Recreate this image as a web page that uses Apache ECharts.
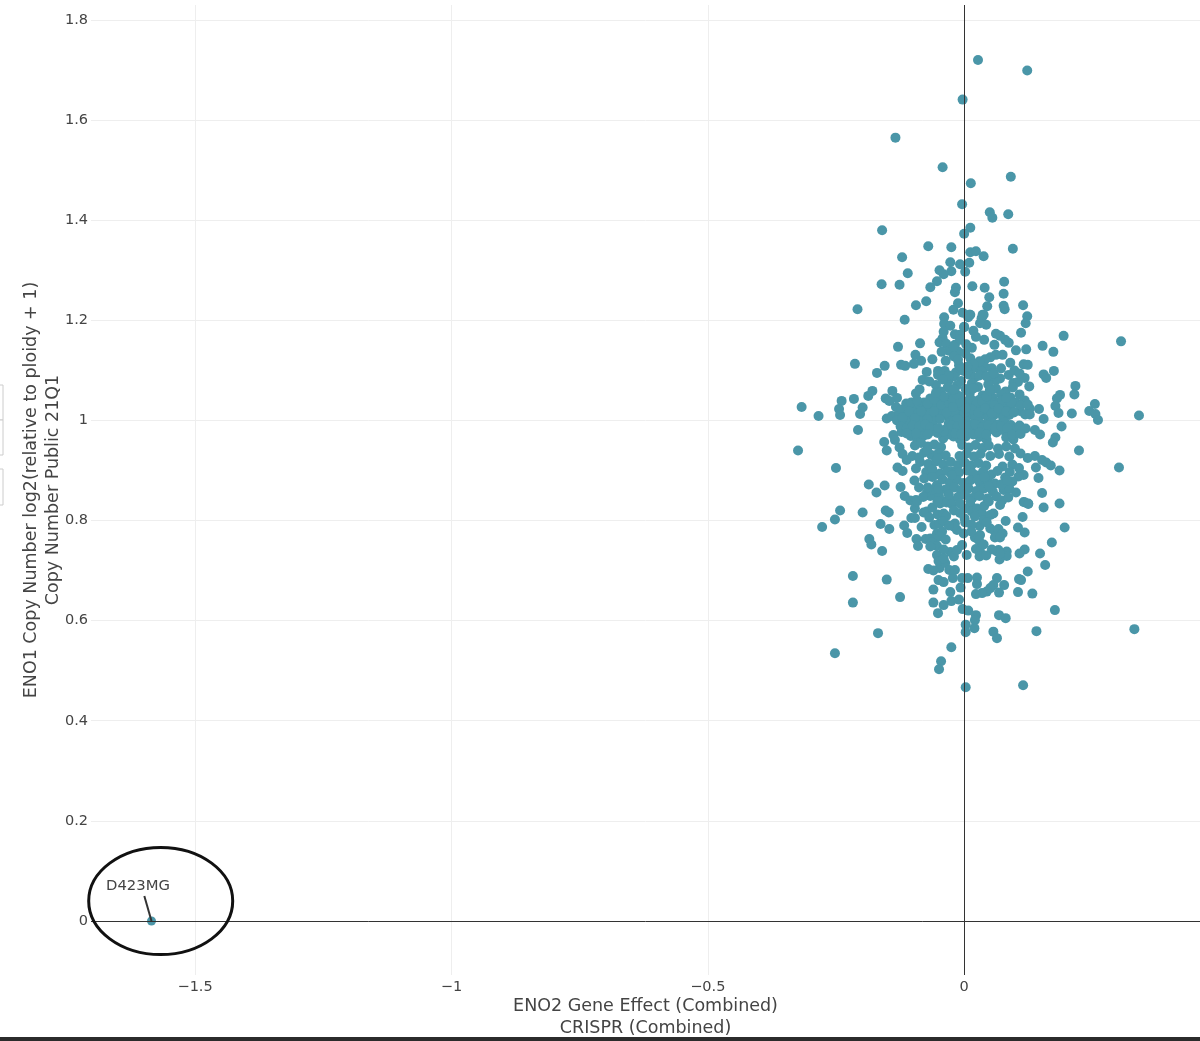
<!DOCTYPE html>
<html>
<head>
<meta charset="utf-8">
<title>ENO2 vs ENO1</title>
<script src="https://cdn.jsdelivr.net/npm/echarts@6/dist/echarts.min.js"></script>
<style>
  html, body { margin: 0; padding: 0; background: #fff; }
  #chart { width: 1200px; height: 1041px; }
</style>
</head>
<body>
<div id="chart"></div>
<script>
const xTicks = [-1.5, -1, -0.5, 0];
const yTicks = [0, 0.2, 0.4, 0.6, 0.8, 1, 1.2, 1.4, 1.6, 1.8];
const xTitle = 'ENO2 Gene Effect (Combined)\nCRISPR (Combined)';
const yTitle = 'ENO1 Copy Number log2(relative to ploidy + 1)\nCopy Number Public 21Q1';

// the one labelled cell line
const outlierName = 'D423MG';
const outlier = [-1.585, 0];
const outlierLeaderEnd = [-1.599, 0.05];

// [gene effect, copy number]
const upperPoints = [
  [0.027,1.720],[0.123,1.699],[-0.003,1.641],[-0.134,1.565],[-0.042,1.506],[0.091,1.487],[0.013,1.474],
  [-0.004,1.432],[0.050,1.416],[0.055,1.405],[0.086,1.412],[-0.160,1.380],[0.012,1.385],[0.000,1.373],
  [-0.070,1.348],[-0.025,1.346],[0.095,1.343],[0.012,1.336],[0.023,1.338],[0.038,1.328],[-0.121,1.326],
  [-0.027,1.316],[-0.008,1.312],[0.010,1.315],[-0.048,1.300],[-0.025,1.298],[-0.040,1.292],[-0.110,1.294],
  [0.002,1.297],[-0.053,1.278],[0.078,1.277],[-0.161,1.272],[-0.126,1.271],[-0.066,1.266],[-0.016,1.265],
  [-0.018,1.256],[0.016,1.268],[0.040,1.265],[0.077,1.253],[0.049,1.246],[-0.012,1.234],[-0.074,1.238],
  [-0.094,1.230],[0.045,1.228],[0.077,1.229],[0.115,1.230],[0.079,1.222],[-0.208,1.222],[-0.021,1.221],
  [-0.003,1.215],[0.012,1.211],[0.038,1.211],[0.123,1.208],[-0.039,1.206],[-0.116,1.201],[0.008,1.206],
  [0.034,1.204],[0.120,1.194],[0.111,1.175]
];
const upperCentrePoints = [
  [-0.039,1.193],[-0.027,1.189],[0.000,1.187],[-0.040,1.177],[-0.018,1.172],[-0.008,1.171],[-0.042,1.164],
  [-0.129,1.147],[-0.086,1.154],[-0.048,1.156],[-0.035,1.153],[-0.018,1.151],[-0.008,1.161],[-0.029,1.139],
  [-0.011,1.137],[0.002,1.134],[-0.095,1.131],[-0.084,1.119],[-0.098,1.113],[-0.036,1.119],[0.059,1.151],
  [0.087,1.155],[0.080,1.161],[0.070,1.169],[0.062,1.173],[0.039,1.161],[0.015,1.145],[0.023,1.167],
  [0.018,1.179],[0.043,1.191],[0.031,1.194],[0.036,1.211],[0.010,1.211],[0.000,1.186],[0.075,1.131],
  [0.062,1.131],[0.051,1.126],[0.041,1.122],[0.090,1.115],[0.054,1.104],[0.041,1.106],[0.028,1.104],
  [0.012,1.098],[-0.073,1.097],[-0.051,1.099],[-0.038,1.099],[-0.051,1.091],[-0.016,1.096],[-0.001,1.099],
  [-0.081,1.081],[-0.031,1.079],[-0.055,1.071],[-0.087,1.062],[-0.094,1.054],[0.087,1.091],[0.070,1.084],
  [0.062,1.081],[0.049,1.084],[0.096,1.075],[0.105,1.077],[0.118,1.085]
];
const leftPoints = [
  [-0.213,1.113],[-0.155,1.109],[-0.123,1.111],[-0.115,1.109],[-0.170,1.095],[-0.140,1.059],[-0.179,1.059],
  [-0.187,1.049],[-0.215,1.043],[-0.239,1.039],[-0.131,1.045],[-0.153,1.044],[-0.146,1.039],[-0.317,1.027],
  [-0.244,1.023],[-0.242,1.011],[-0.284,1.009],[-0.198,1.026],[-0.203,1.013],[-0.133,1.027],[-0.113,1.034],
  [-0.151,1.004],[-0.141,1.009],[-0.207,0.981],[-0.324,0.940],[-0.250,0.905],[-0.156,0.957],[-0.151,0.940],
  [-0.138,0.971],[-0.135,0.961],[-0.122,0.977],[-0.126,0.946],[-0.120,0.933],[-0.112,0.921],[-0.101,0.929],
  [-0.130,0.906],[-0.120,0.899],[-0.094,0.904],[-0.186,0.872],[-0.171,0.856],[-0.155,0.870],[-0.124,0.867],
  [-0.097,0.880],[-0.088,0.866],[-0.116,0.849],[-0.105,0.840],[-0.094,0.841],[-0.073,0.854],[-0.066,0.849],
  [-0.057,0.891],[-0.047,0.894],[-0.053,0.871],[-0.060,0.861],[-0.040,0.838],[-0.027,0.841],[-0.022,0.898]
];
const rightPoints = [
  [0.194,1.169],[0.306,1.158],[0.153,1.149],[0.121,1.142],[0.101,1.140],[0.174,1.137],[0.116,1.112],
  [0.124,1.111],[0.175,1.099],[0.155,1.092],[0.160,1.085],[0.127,1.068],[0.217,1.069],[0.215,1.052],
  [0.187,1.051],[0.181,1.044],[0.255,1.033],[0.178,1.029],[0.184,1.015],[0.210,1.014],[0.146,1.023],
  [0.244,1.019],[0.256,1.013],[0.261,1.001],[0.341,1.010],[0.155,1.003],[0.190,0.988],[0.148,0.972],
  [0.138,0.981],[0.178,0.966],[0.173,0.956],[0.224,0.940],[0.302,0.906],[0.138,0.929],[0.152,0.921],
  [0.160,0.916],[0.169,0.910],[0.186,0.900],[0.140,0.906],[0.075,0.908],[0.145,0.885],[0.116,0.891],
  [0.106,0.888],[0.080,0.886],[0.101,0.856],[0.152,0.855],[0.116,0.837],[0.125,0.834],[0.186,0.834],
  [0.155,0.826],[0.077,0.861],[0.074,0.840],[0.025,0.890]
];
const lowerPoints = [
  [-0.242,0.820],[-0.252,0.802],[-0.277,0.787],[-0.198,0.816],[-0.153,0.820],[-0.147,0.816],[-0.163,0.793],
  [-0.146,0.783],[-0.117,0.790],[-0.111,0.775],[-0.083,0.787],[-0.103,0.805],[-0.096,0.805],[-0.096,0.824],
  [-0.092,0.838],[-0.079,0.816],[-0.073,0.818],[-0.052,0.812],[-0.040,0.814],[-0.035,0.809],[-0.058,0.791],
  [-0.048,0.794],[-0.040,0.798],[-0.053,0.774],[-0.043,0.778],[-0.048,0.768],[-0.075,0.763],[-0.066,0.764],
  [-0.057,0.762],[-0.063,0.756],[-0.053,0.749],[-0.093,0.763],[-0.090,0.749],[-0.185,0.763],[-0.181,0.752],
  [-0.160,0.739],[-0.053,0.731],[-0.027,0.737],[-0.020,0.728],[-0.014,0.741],[-0.004,0.751],[0.005,0.731],
  [-0.001,0.774],[-0.018,0.794],[-0.014,0.781],[-0.021,0.788],[0.001,0.804],[0.002,0.796],[0.021,0.766],
  [0.031,0.771],[0.029,0.760],[0.030,0.789],[0.051,0.784],[0.060,0.778],[0.067,0.783],[0.075,0.774],
  [0.060,0.766],[0.070,0.766],[0.081,0.799],[0.105,0.786],[0.118,0.776],[0.114,0.807],[0.196,0.786],
  [0.171,0.756],[0.148,0.734],[0.118,0.742],[0.108,0.734],[0.083,0.738],[0.083,0.729],[0.067,0.741],
  [0.064,0.738],[0.069,0.722],[0.070,0.734],[0.023,0.743],[0.031,0.738],[0.030,0.728],[0.158,0.711],
  [0.124,0.698],[0.107,0.683],[0.111,0.681],[0.064,0.685],[0.025,0.686],[0.025,0.673],[-0.004,0.685],
  [0.007,0.685],[-0.022,0.685],[-0.070,0.703],[-0.048,0.705],[-0.050,0.719],[-0.037,0.715],[-0.029,0.701],
  [-0.018,0.701],[-0.217,0.689],[-0.151,0.682],[-0.050,0.681],[-0.040,0.677],[-0.060,0.662],[-0.027,0.657],
  [-0.007,0.666],[-0.217,0.636],[-0.125,0.647],[-0.060,0.636],[-0.040,0.631],[-0.025,0.639],[-0.010,0.642],
  [0.078,0.671],[0.057,0.671],[0.051,0.665],[0.044,0.658],[0.035,0.655],[0.023,0.653],[0.068,0.656],
  [0.105,0.657],[0.133,0.654],[0.177,0.621],[-0.003,0.623],[0.008,0.620],[-0.051,0.615],[0.023,0.611],
  [0.021,0.601],[0.068,0.611],[0.081,0.605],[0.003,0.592],[0.020,0.585],[0.003,0.577],[-0.168,0.575],
  [0.057,0.578],[0.064,0.565],[0.141,0.579],[0.332,0.583],[-0.025,0.547],[-0.252,0.535],[-0.045,0.519],
  [-0.049,0.503],[0.003,0.467],[0.115,0.471],[0.119,0.836],[0.125,0.833],[0.002,0.824],[0.013,0.829],
  [0.015,0.818],[0.025,0.824],[0.035,0.814],[0.039,0.829],[0.021,0.808],[0.038,0.801],[0.057,0.814],
  [0.070,0.831],[0.051,0.811],[-0.047,0.834],[-0.034,0.836],[-0.024,0.833]
];
const densePoints = [
  [-0.020,1.088],[0.008,1.092],[0.021,1.086],[0.034,1.098],[-0.006,1.079],[0.015,1.074],[-0.032,1.066],
  [-0.014,1.070],[0.003,1.063],[0.027,1.067],[0.047,1.072],[0.062,1.064],[0.081,1.058],[0.095,1.066],
  [-0.046,1.058],[-0.024,1.052],[-0.008,1.048],[0.011,1.055],[0.036,1.050],[0.055,1.046],[0.072,1.052],
  [0.090,1.046],[0.108,1.052],[-0.066,1.044],[-0.078,1.036],[-0.052,1.036],[-0.036,1.041],[-0.018,1.033],
  [0.001,1.038],[0.018,1.034],[0.029,1.041],[0.044,1.032],[0.066,1.036],[0.083,1.031],[0.101,1.036],
  [0.118,1.040],[0.128,1.024],[-0.108,1.027],[-0.097,1.021],[-0.086,1.029],[-0.074,1.023],[-0.063,1.028],
  [-0.049,1.021],[-0.038,1.026],[-0.027,1.019],[-0.011,1.025],[0.006,1.021],[0.024,1.026],[0.038,1.019],
  [0.053,1.024],[0.072,1.020],[0.091,1.026],[0.109,1.019],[0.119,1.012],[-0.127,1.016],[-0.114,1.012],
  [-0.102,1.008],[-0.090,1.014],[-0.078,1.009],[-0.066,1.015],[-0.054,1.008],[-0.041,1.012],[-0.029,1.006],
  [-0.017,1.013],[-0.005,1.007],[0.010,1.012],[0.022,1.006],[0.034,1.011],[0.047,1.006],[0.060,1.012],
  [0.076,1.006],[0.088,1.011],[-0.131,1.000],[-0.118,0.996],[-0.106,0.999],
  [-0.094,0.994],[-0.082,0.999],[-0.070,0.993],[-0.060,0.999],[-0.030,0.994],[-0.019,0.999],[-0.007,0.992],
  [0.004,0.998],[0.016,0.993],[0.028,0.998],[0.041,0.992],[0.054,0.997],[0.066,0.992],[0.079,0.997],
  [0.091,0.991],[0.100,0.983],[-0.098,0.983],[-0.086,0.978],[-0.076,0.984],[-0.063,0.979],[-0.024,0.983],
  [-0.012,0.978],[0.000,0.984],[0.012,0.978],[0.024,0.983],[0.037,0.977],[0.050,0.982],[0.063,0.976],
  [0.075,0.981],[0.088,0.975],[-0.104,0.969],[-0.092,0.964],[-0.080,0.969],
  [-0.041,0.964],[-0.021,0.968],[-0.008,0.962],[0.003,0.968],[0.030,0.967],[0.044,0.961],
  [0.096,0.962],[-0.096,0.950],[-0.084,0.955],[-0.071,0.948],[-0.058,0.952],
  [-0.045,0.947],[-0.004,0.951],[0.009,0.946],[0.022,0.951],[0.036,0.945],
  [0.048,0.950],[0.066,0.944],[0.082,0.948],[0.099,0.944],[-0.078,0.936],[-0.064,0.931],[-0.050,0.935],
  [-0.036,0.930],[-0.009,0.929],[0.005,0.934],[0.019,0.928],[0.032,0.933],[0.051,0.929],
  [0.068,0.933],[0.088,0.928],[0.110,0.934],[0.124,0.925],[-0.086,0.917],[-0.070,0.913],[-0.055,0.918],
  [-0.041,0.912],[-0.026,0.917],[-0.012,0.911],[0.001,0.916],[0.014,0.910],[0.028,0.915],[0.043,0.910],
  [0.094,0.912],[0.107,0.905],[-0.074,0.897],[-0.062,0.902],[-0.033,0.899],[-0.010,0.896],
  [0.006,0.900],[0.017,0.894],[0.037,0.898],[0.053,0.892],[0.065,0.899],[0.089,0.897],[-0.078,0.884],
  [-0.042,0.882],[-0.028,0.876],[-0.014,0.881],[-0.001,0.875],[0.012,0.880],[0.031,0.875],[0.046,0.880],
  [0.060,0.874],[0.094,0.878],[-0.071,0.866],[-0.036,0.862],[-0.019,0.866],[-0.006,0.860],[0.009,0.864],
  [0.024,0.859],[0.039,0.864],[0.056,0.858],[0.088,0.864],[-0.080,0.847],[-0.049,0.849],[-0.030,0.852],
  [-0.012,0.847],[0.002,0.851],[0.016,0.845],[0.030,0.849],[0.045,0.844],[0.063,0.848],[0.086,0.846]
];
// solid band around copy number 1, where points overlap too much to tell apart
const solidBandPoints = [
  [-0.122,1.022],[-0.103,1.036],[-0.092,1.040],[-0.071,1.033],[-0.058,1.042],[-0.044,1.031],[-0.030,1.034],
  [-0.022,1.042],[-0.008,1.035],[0.008,1.030],[0.012,1.044],[0.024,1.033],[0.036,1.037],[0.052,1.036],
  [0.059,1.030],[0.075,1.041],[0.092,1.036],[0.110,1.030],[0.124,1.032],[-0.120,1.006],[-0.108,1.018],
  [-0.096,1.005],[-0.084,1.019],[-0.072,1.003],[-0.059,1.018],[-0.047,1.003],[-0.034,1.016],[-0.022,1.027],
  [-0.013,1.003],[0.001,1.016],[0.015,1.022],[0.028,1.016],[0.041,1.024],[0.054,1.014],[0.067,1.024],
  [0.082,1.018],[0.097,1.016],[0.128,1.012],[-0.124,0.988],[-0.112,0.985],[-0.100,0.990],[-0.088,0.988],
  [-0.076,0.992],[-0.066,0.986],[-0.034,0.984],[-0.024,0.990],[-0.013,0.988],[-0.002,0.993],[0.010,0.988],
  [0.022,0.992],[0.035,0.986],[0.047,0.990],[0.060,0.986],[0.072,0.989],[0.084,0.985],[0.108,0.990],
  [0.120,0.984],[-0.112,0.974],[-0.094,0.974],[-0.071,0.972],[-0.052,0.975],[-0.032,0.972],[-0.017,0.974],
  [-0.006,0.972],[0.006,0.975],[0.018,0.972],[0.030,0.976],[0.043,0.972],[0.082,0.966],[0.094,0.972],
  [0.110,0.973],[-0.040,0.978],[-0.050,0.985],[0.003,1.024],[-0.040,1.048],[-0.015,1.052],[0.044,1.048],
  [0.082,1.045],[-0.055,1.055],[-0.020,1.062],[0.018,1.064],[0.050,1.060],[-0.030,1.090],[-0.010,1.110],
  [0.012,1.124],[-0.020,1.128],[0.030,1.090],[0.030,1.118]
];
// clumps above and below the band
const clumpPoints = [
  [-0.044,1.137],[-0.062,1.122],[-0.020,1.147],[0.004,1.152],[-0.012,1.121],[0.018,1.112],[0.006,1.107],
  [0.044,1.088],[0.058,1.094],[0.072,1.104],[0.098,1.100],[0.108,1.094],[-0.068,1.078],[-0.042,1.082],
  [-0.072,0.941],[-0.088,0.926],[-0.052,0.924],[-0.062,0.887],[-0.050,0.864],
  [-0.024,0.891],[0.026,0.882],[0.040,0.887],
  [0.048,0.868],[0.072,0.872],[0.084,0.880],
  [0.048,0.838],[0.012,0.838],[-0.008,0.834],[-0.020,0.820],[-0.062,0.826],[-0.052,0.838],
  [-0.068,0.806],[-0.030,0.790],[-0.008,0.815],[0.014,0.792],[0.044,0.796],[0.014,0.778],[-0.036,0.762],
  [-0.066,0.748],[-0.040,0.742],[0.038,0.752],[0.054,0.742],[0.043,0.730],[-0.040,0.724],[-0.060,0.700]
];
const allPoints = [].concat(upperPoints, upperCentrePoints, leftPoints, rightPoints, lowerPoints, densePoints, solidBandPoints, clumpPoints);

const pointColor = '#4a96a8';
const textColor = '#444';

const chart = echarts.init(document.getElementById('chart'));

const option = {
  backgroundColor: '#fff',
  animation: false,
  textStyle: { fontFamily: 'DejaVu Sans' },
  grid: { left: 91, right: 0, top: 5, bottom: 66, outerBoundsMode: 'none' },
  xAxis: {
    type: 'value',
    min: -1.703,
    max: 0.46,
    axisLine: { show: false },
    axisTick: { show: false, customValues: xTicks },
    axisLabel: {
      customValues: xTicks,
      color: textColor,
      fontSize: 14.5,
      margin: 5,
      formatter: function (v) { return String(v).replace('-', '\u2212'); }
    },
    splitLine: { show: true, lineStyle: { color: '#eee', width: 1 } },
    name: xTitle,
    nameLocation: 'middle',
    nameGap: 20,
    nameMoveOverlap: false,
    nameTextStyle: { color: textColor, fontSize: 17.5, lineHeight: 22, verticalAlign: 'top' }
  },
  yAxis: {
    type: 'value',
    min: -0.108,
    max: 1.83,
    axisLine: { show: false },
    axisTick: { show: false, customValues: yTicks },
    axisLabel: { customValues: yTicks, color: textColor, fontSize: 14.5, margin: 3 },
    splitLine: { show: true, lineStyle: { color: '#eee', width: 1 } },
    name: yTitle,
    nameLocation: 'middle',
    nameGap: 27,
    nameMoveOverlap: false,
    nameTextStyle: { color: textColor, fontSize: 17.5, lineHeight: 22 }
  },
  series: [
    {
      // zero lines sit under the points
      type: 'scatter',
      data: [],
      silent: true,
      markLine: {
        silent: true,
        symbol: 'none',
        label: { show: false },
        lineStyle: { color: '#333', width: 1, type: 'solid' },
        data: [{ xAxis: 0 }, { yAxis: 0 }]
      },
      z: 1
    },
    {
      type: 'scatter',
      data: allPoints,
      symbolSize: 10,
      itemStyle: { color: pointColor, opacity: 1 },
      z: 3
    },
    {
      type: 'scatter',
      data: [{ value: outlier, name: outlierName }],
      symbolSize: 9,
      itemStyle: { color: pointColor, opacity: 1 },
      label: {
        show: true,
        formatter: '{b}',
        position: [-41, -38],
        color: textColor,
        fontSize: 14.8
      },
      markLine: {
        silent: true,
        symbol: 'none',
        label: { show: false },
        lineStyle: { color: '#333', width: 2, type: 'solid' },
        data: [[{ coord: outlier }, { coord: outlierLeaderEnd }]]
      },
      z: 4
    }
  ],
  graphic: [
    {
      // hand-drawn circle round the outlier
      type: 'ellipse',
      shape: { cx: 160.7, cy: 901, rx: 72, ry: 53.5 },
      style: { fill: 'none', stroke: '#111', lineWidth: 3 },
      z: 10
    },
    // leftovers of the page round the screenshot
    { type: 'rect', shape: { x: -1, y: 385, width: 4, height: 35 }, style: { fill: '#fff', stroke: '#ccc' }, z: 10 },
    { type: 'rect', shape: { x: -1, y: 420, width: 4, height: 35 }, style: { fill: '#fff', stroke: '#ccc' }, z: 10 },
    { type: 'rect', shape: { x: -1, y: 469, width: 4, height: 36 }, style: { fill: '#fff', stroke: '#ccc' }, z: 10 },
    { type: 'rect', shape: { x: 0, y: 1037, width: 1200, height: 4 }, style: { fill: '#2b2b2b' }, z: 10 }
  ]
};

chart.setOption(option);
</script>
</body>
</html>
